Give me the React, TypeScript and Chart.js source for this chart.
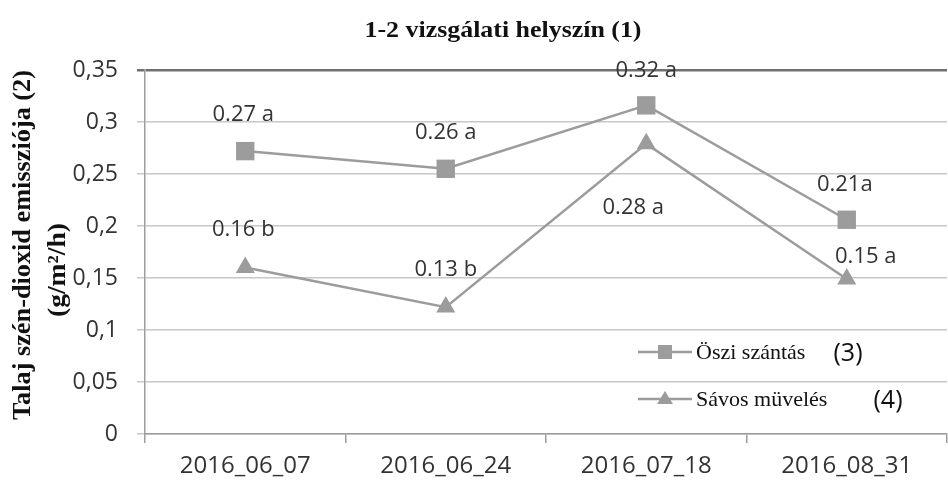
import React, { useEffect, useRef } from "react";
import { Chart, registerables } from "chart.js";

Chart.register(...registerables);

const categories = ["2016_06_07", "2016_06_24", "2016_07_18", "2016_08_31"];
const osziValues = [0.272, 0.255, 0.316, 0.206];
const savosValues = [0.16, 0.122, 0.279, 0.149];
const osziLabels = ["0.27 a", "0.26 a", "0.32 a", "0.21a"];
const savosLabels = ["0.16 b", "0.13 b", "0.28 a", "0.15 a"];
const yTickValues = [0, 0.05, 0.1, 0.15, 0.2, 0.25, 0.3, 0.35];
const yTickLabels = ["0", "0,05", "0,1", "0,15", "0,2", "0,25", "0,3", "0,35"];
const seriesNames = ["Öszi szántás", "Sávos müvelés"];
const seriesTags = ["(3)", "(4)"];
const titleText = "1-2 vizsgálati helyszín (1)";
const yTitleLines = ["Talaj szén-dioxid emissziója (2)", "(g/m²/h)"];

// label offsets (style/position, not data)
const osziOffsets = [[-2, -36], [0, -36], [0, -35], [-2, -35]];
const savosOffsets = [[-2, -38], [0, -37], [-13, 64], [19, -22]];

const GRAY = "#9c9c9c";
const SANS = "'Open Sans', sans-serif";
const SERIF = "'Liberation Serif', 'Times New Roman', serif";

function fitText(ctx: any, text: string, cx: number, cy: number, width: number, rotate: boolean) {
  const w = ctx.measureText(text).width;
  ctx.save();
  ctx.translate(cx, cy);
  if (rotate) ctx.rotate(-Math.PI / 2);
  ctx.scale(width / w, 1);
  ctx.fillText(text, 0, 0);
  ctx.restore();
}

export default function App() {
  const ref = useRef<HTMLCanvasElement | null>(null);
  useEffect(() => {
    const canvas = ref.current;
    if (!canvas) return;

    const overlay = {
      id: "overlay",
      afterDatasetsDraw(chart: any) {
        const ctx = chart.ctx;
        ctx.save();
        ctx.fillStyle = "#333333";
        ctx.font = `22px ${SANS}`;
        ctx.textAlign = "center";
        ctx.textBaseline = "middle";
        const sets = [
          { labels: osziLabels, offs: osziOffsets },
          { labels: savosLabels, offs: savosOffsets },
        ];
        sets.forEach((s, di) => {
          const meta = chart.getDatasetMeta(di);
          meta.data.forEach((pt: any, i: number) => {
            ctx.fillText(s.labels[i], pt.x + s.offs[i][0], pt.y + s.offs[i][1]);
          });
        });
        ctx.restore();
      },
      afterDraw(chart: any) {
        const ctx = chart.ctx;
        ctx.save();
        // title
        ctx.fillStyle = "#111111";
        ctx.font = `bold 24px ${SERIF}`;
        ctx.textAlign = "center";
        ctx.textBaseline = "alphabetic";
        fitText(ctx, titleText, 503, 37, 277, false);
        // y title
        ctx.font = `bold 25px ${SERIF}`;
        ctx.textBaseline = "middle";
        fitText(ctx, yTitleLines[0], 24, 245, 350, true);
        fitText(ctx, yTitleLines[1], 59, 270, 94, true);
        // legend
        const rows = [352, 399];
        rows.forEach((y, i) => {
          ctx.strokeStyle = GRAY;
          ctx.lineWidth = 2.5;
          ctx.beginPath();
          ctx.moveTo(638, y);
          ctx.lineTo(692, y);
          ctx.stroke();
          ctx.fillStyle = GRAY;
          if (i === 0) {
            ctx.fillRect(658, y - 7, 14, 14);
          } else {
            ctx.beginPath();
            ctx.moveTo(665, y - 8);
            ctx.lineTo(673, y + 5);
            ctx.lineTo(657, y + 5);
            ctx.closePath();
            ctx.fill();
          }
          ctx.fillStyle = "#111111";
          ctx.font = `22px ${SERIF}`;
          ctx.textAlign = "left";
          ctx.textBaseline = "middle";
          ctx.fillText(seriesNames[i], 696, y + 1);
          ctx.font = `25px ${SANS}`;
          ctx.textAlign = "center";
          ctx.fillText(seriesTags[i], i === 0 ? 848 : 888, y + 2);
        });
        ctx.restore();
      },
    };

    const chart = new Chart(canvas, {
      type: "line",
      data: {
        labels: categories,
        datasets: [
          {
            label: seriesNames[0],
            data: osziValues,
            borderColor: GRAY,
            backgroundColor: GRAY,
            borderWidth: 2.5,
            pointStyle: "rect",
            pointRadius: 13,
            pointBorderWidth: 0,
            pointBackgroundColor: GRAY,
            tension: 0,
          },
          {
            label: seriesNames[1],
            data: savosValues,
            borderColor: GRAY,
            backgroundColor: GRAY,
            borderWidth: 2.5,
            pointStyle: "triangle",
            pointRadius: 11,
            pointBorderWidth: 0,
            pointBackgroundColor: GRAY,
            tension: 0,
          },
        ],
      },
      options: {
        responsive: false,
        animation: false,
        events: [],
        layout: { padding: { left: 0, top: 70, right: 7, bottom: 0 } },
        plugins: {
          legend: { display: false },
          title: { display: false },
          tooltip: { enabled: false },
        },
        scales: {
          x: {
            type: "category",
            offset: true,
            grid: {
              display: true,
              drawOnChartArea: false,
              drawTicks: true,
              tickLength: 9,
              color: GRAY,
              lineWidth: 1.5,
              offset: true,
            },
            border: { display: true, color: GRAY, width: 1.5 },
            ticks: {
              color: "#333333",
              font: { family: SANS, size: 24 },
              padding: 9,
              maxRotation: 0,
            },
            afterFit(scale: any) {
              scale.height = 48;
            },
          },
          y: {
            type: "linear",
            min: 0,
            max: 0.35,
            afterBuildTicks(scale: any) {
              scale.ticks = yTickValues.map((v) => ({ value: v }));
            },
            grid: {
              color: (c: any) =>
                c.tick && Math.abs(c.tick.value - 0.35) < 1e-6 ? "#707070" : "#c8c8c8",
              lineWidth: (c: any) =>
                c.tick && Math.abs(c.tick.value - 0.35) < 1e-6 ? 2.5 : 1.5,
              tickLength: 8,
              drawTicks: true,
            },
            border: { display: true, color: GRAY, width: 1.5 },
            ticks: {
              color: "#333333",
              font: { family: SANS, size: 23 },
              padding: 19,
              callback: (v: any) => {
                const idx = yTickValues.findIndex((t) => Math.abs(t - Number(v)) < 1e-6);
                return idx >= 0 ? yTickLabels[idx] : "";
              },
            },
            afterFit(scale: any) {
              scale.width = 145;
            },
          },
        },
      },
      plugins: [overlay],
    } as any);
    return () => chart.destroy();
  }, []);

  return (
    <div
      style={{
        position: "absolute",
        left: 0,
        top: 0,
        width: 948,
        height: 482,
        overflow: "hidden",
        background: "#ffffff",
      }}
    >
      <canvas ref={ref} width={960} height={482} style={{ display: "block" }} />
    </div>
  );
}
